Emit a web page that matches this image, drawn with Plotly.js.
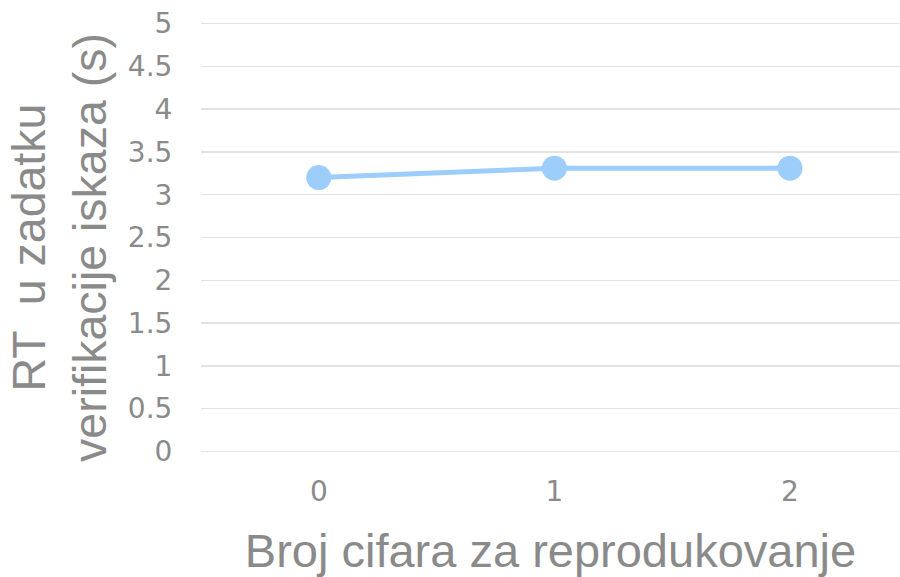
<!DOCTYPE html>
<html><head><meta charset="utf-8">
<script src="https://cdn.plot.ly/plotly-3.0.1.min.js"></script>
<style>html,body{margin:0;padding:0;background:#fff}#chart{width:900px;height:577px}</style>
</head><body><div id="chart"></div>
<script>
const categories = ['0', '1', '2'];
const rtValues = [3.2, 3.31, 3.31];
const yTicks = [0, 0.5, 1, 1.5, 2, 2.5, 3, 3.5, 4, 4.5, 5];
const yTickLabels = ['0', '0.5', '1', '1.5', '2', '2.5', '3', '3.5', '4', '4.5', '5'];
const yTitle = 'RT  u zadatku<br>verifikacije iskaza (s)';
const xTitle = 'Broj cifara za reprodukovanje';

const grey = '#8a8a8a';
const fontFam = 'Liberation Sans, Arial, sans-serif';
const tickFam = 'DejaVu Sans, Verdana, sans-serif';

const trace = {
  x: categories, y: rtValues, type: 'scatter', mode: 'lines+markers',
  line: {color: '#9dcdfb', width: 5},
  marker: {color: '#9dcdfb', size: 25},
  hoverinfo: 'x+y'
};

const layout = {
  width: 900, height: 577,
  margin: {l: 201, r: 0, t: 22, b: 123.5},
  paper_bgcolor: '#fff', plot_bgcolor: '#fff',
  showlegend: false,
  font: {family: fontFam, color: grey},
  xaxis: {
    type: 'category', range: [-0.5, 2.467],
    showgrid: false, zeroline: false, showline: false,
    ticks: 'outside', ticklen: 13, tickcolor: 'rgba(0,0,0,0)',
    tickfont: {size: 28, color: grey, family: tickFam},
    title: {text: xTitle, font: {size: 47, color: grey, family: fontFam}, standoff: 29}
  },
  yaxis: {
    range: [-0.018, 5.018], tickvals: yTicks, ticktext: yTickLabels,
    showgrid: true, gridcolor: '#e2e2e2', gridwidth: 1.5,
    zeroline: false, showline: false,
    ticks: 'outside', ticklen: 22, tickcolor: 'rgba(0,0,0,0)',
    tickfont: {size: 28, color: grey, family: tickFam}
  },
  annotations: [{
    text: yTitle, xref: 'paper', yref: 'paper',
    x: -0.203, y: 0.476, xanchor: 'center', yanchor: 'middle',
    textangle: -90, showarrow: false,
    font: {size: 46.5, color: grey, family: fontFam}
  }]
};

Plotly.newPlot('chart', [trace], layout, {displayModeBar: false, staticPlot: true});
</script></body></html>
